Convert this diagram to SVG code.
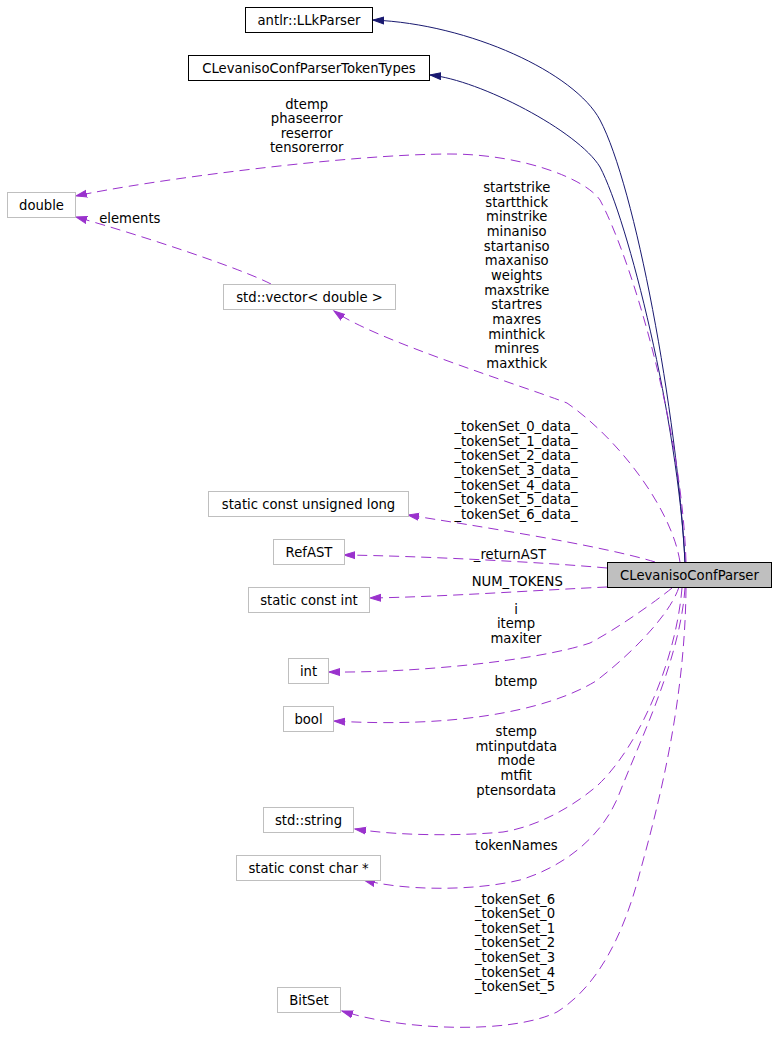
<svg xmlns="http://www.w3.org/2000/svg" width="776" height="1051" viewBox="0 0 776 1051">
<style>
text{font-family:"DejaVu Sans","Liberation Sans",sans-serif;font-size:13.2px;fill:#000;text-anchor:middle}
.n rect{fill:#fff;stroke:#bfbfbf;stroke-width:1}
.main rect{fill:#bfbfbf;stroke:#000;stroke-width:1}
.inh{fill:none;stroke:#191970;stroke-width:1;marker-end:url(#ab)}
.use{fill:none;stroke:#9a32cd;stroke-width:1;stroke-dasharray:10,6;marker-end:url(#ap)}
</style>
<defs>
<marker id="ab" markerUnits="userSpaceOnUse" markerWidth="13" markerHeight="9" refX="11" refY="4.5" orient="auto"><path d="M0,1 L11,4.5 L0,8 z" fill="#191970" stroke="#191970" stroke-width="1"/></marker>
<marker id="ap" markerUnits="userSpaceOnUse" markerWidth="13" markerHeight="9" refX="11" refY="4.5" orient="auto"><path d="M0,1 L11,4.5 L0,8 z" fill="#9a32cd" stroke="#9a32cd" stroke-width="1"/></marker>
</defs>
<rect width="776" height="1051" fill="#fff"/>
<g id="connectors">
<path class="inh" d="M685,562 C677,412 635,186 600,120 C575,73 470,24 373,20"/>
<path class="inh" d="M685,562 C678,420 628,220 600,167 C578,131 480,80 430,75"/>
<path class="use" d="M686,562 C682,430 632,260 600,200 C585,178 520,154 450,154 C350,154 150,180 76,196"/>
<path class="use" d="M271,284 C240,268 140,235 76,217"/>
<path class="use" d="M680,562 C672,510 620,440 567,403 C520,385 375,340 334,311"/>
<path class="use" d="M655,562 C600,545 470,525 408,515"/>
<path class="use" d="M607,568 C540,562 420,556 344,555"/>
<path class="use" d="M607,587 C540,590 440,597 370,598"/>
<path class="use" d="M672,588 C655,602 615,630 590,643 C540,660 420,673 329,672"/>
<path class="use" d="M679,587 C670,615 630,655 596,681 C545,712 450,728 334,721"/>
<path class="use" d="M682,588 C676,660 640,745 598,785 C575,805 540,826 503,832 C460,836 400,836 355,829"/>
<path class="use" d="M685,588 C680,660 640,740 618,797 C600,840 560,868 520,880 C470,892 400,890 364,880"/>
<path class="use" d="M686,588 C685,700 660,800 640,872 C625,930 600,985 557,1012 C510,1035 400,1030 342,1011"/>
</g>
<g id="labels">
<text x="306.7" y="108.5">dtemp</text>
<text x="306.7" y="123.1">phaseerror</text>
<text x="306.7" y="137.7">reserror</text>
<text x="306.7" y="152.3">tensorerror</text>
<text x="129.8" y="222.8">elements</text>
<text x="516.7" y="191.8">startstrike</text>
<text x="516.7" y="206.5">startthick</text>
<text x="516.7" y="221.1">minstrike</text>
<text x="516.7" y="235.8">minaniso</text>
<text x="516.7" y="250.5">startaniso</text>
<text x="516.7" y="265.1">maxaniso</text>
<text x="516.7" y="279.8">weights</text>
<text x="516.7" y="294.5">maxstrike</text>
<text x="516.7" y="309.2">startres</text>
<text x="516.7" y="323.8">maxres</text>
<text x="516.7" y="338.5">minthick</text>
<text x="516.7" y="353.2">minres</text>
<text x="516.7" y="367.8">maxthick</text>
<text x="516" y="431.2">_tokenSet_0_data_</text>
<text x="516" y="445.8">_tokenSet_1_data_</text>
<text x="516" y="460.4">_tokenSet_2_data_</text>
<text x="516" y="475">_tokenSet_3_data_</text>
<text x="516" y="489.6">_tokenSet_4_data_</text>
<text x="516" y="504.2">_tokenSet_5_data_</text>
<text x="516" y="518.8">_tokenSet_6_data_</text>
<text x="510" y="558.8">_returnAST</text>
<text x="517.3" y="586.2">NUM_TOKENS</text>
<text x="516" y="613.8">i</text>
<text x="516" y="628.3">itemp</text>
<text x="516" y="642.8">maxiter</text>
<text x="516" y="685.8">btemp</text>
<text x="516.3" y="736.2">stemp</text>
<text x="516.3" y="750.8">mtinputdata</text>
<text x="516.3" y="765.4">mode</text>
<text x="516.3" y="780">mtfit</text>
<text x="516.3" y="794.6">ptensordata</text>
<text x="516.3" y="850.2">tokenNames</text>
<text x="515" y="903.5">_tokenSet_6</text>
<text x="515" y="918.1">_tokenSet_0</text>
<text x="515" y="932.7">_tokenSet_1</text>
<text x="515" y="947.3">_tokenSet_2</text>
<text x="515" y="961.9">_tokenSet_3</text>
<text x="515" y="976.5">_tokenSet_4</text>
<text x="515" y="991.1">_tokenSet_5</text>
</g>
<g id="node-main" class="main"><rect x="607.5" y="562.5" width="164" height="25"/><text x="689.5" y="579.5">CLevanisoConfParser</text></g>
<g id="node-llkparser" class="n"><rect x="245.5" y="7.5" width="127" height="25" style="stroke:#000"/><text x="309" y="24.5">antlr::LLkParser</text></g>
<g id="node-tokentypes" class="n"><rect x="188.5" y="55.5" width="241" height="25" style="stroke:#000"/><text x="309" y="72.5">CLevanisoConfParserTokenTypes</text></g>
<g id="node-double" class="n"><rect x="7.5" y="192.5" width="68" height="25"/><text x="41.5" y="209.5">double</text></g>
<g id="node-vector" class="n"><rect x="223.5" y="284.5" width="172" height="25"/><text x="309.5" y="301.5">std::vector&lt; double &gt;</text></g>
<g id="node-ulong" class="n"><rect x="208.5" y="491.5" width="200" height="25"/><text x="308.5" y="508.5">static const unsigned long</text></g>
<g id="node-refast" class="n"><rect x="273.5" y="539.5" width="71" height="25"/><text x="309" y="556.5">RefAST</text></g>
<g id="node-sint" class="n"><rect x="248.5" y="587.5" width="121" height="25"/><text x="309" y="604.5">static const int</text></g>
<g id="node-int" class="n"><rect x="288.5" y="658.5" width="40" height="25"/><text x="308.5" y="675.5">int</text></g>
<g id="node-bool" class="n"><rect x="283.5" y="706.5" width="50" height="25"/><text x="308.5" y="723.5">bool</text></g>
<g id="node-string" class="n"><rect x="263.5" y="807.5" width="90" height="25"/><text x="308.5" y="824.5">std::string</text></g>
<g id="node-char" class="n"><rect x="236.5" y="855.5" width="144" height="25"/><text x="308.5" y="872.5">static const char *</text></g>
<g id="node-bitset" class="n"><rect x="277.5" y="987.5" width="63" height="25"/><text x="309" y="1004.5">BitSet</text></g>
</svg>
